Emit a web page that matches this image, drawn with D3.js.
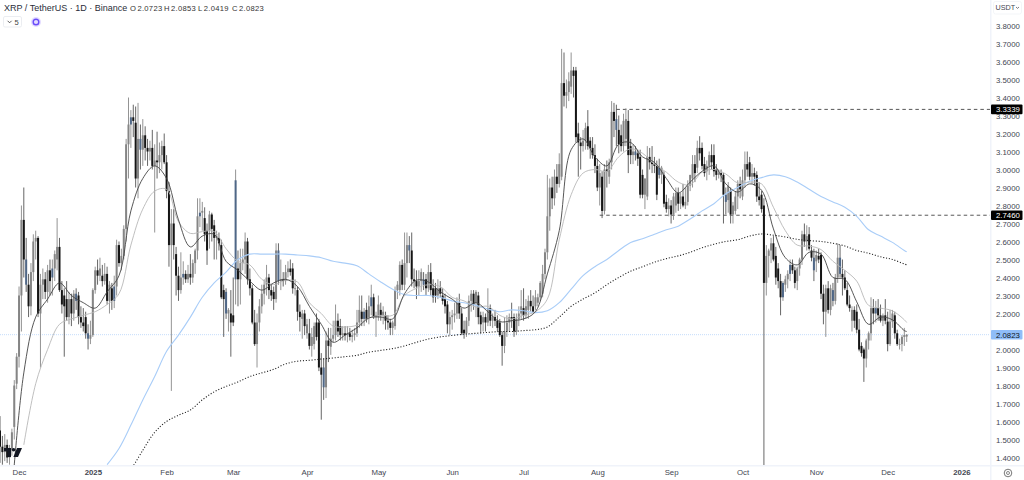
<!DOCTYPE html>
<html>
<head>
<meta charset="utf-8">
<title>XRP / TetherUS</title>
<script src="https://cdn.jsdelivr.net/npm/d3@7"></script>
<style>
  html, body { margin: 0; background: #fff; }
  svg { display: block; font-family: "Liberation Sans", Arial, sans-serif; }
</style>
</head>
<body>
<div id="chart"></div>
<script>
// one entry per day, first bar is 23 Nov 2024, lines below go month by month
const opens = [
  1.55,1.46,1.43,1.47,1.40,1.44,1.57,1.81,
  1.96,2.30,2.72,2.50,2.36,2.24,2.43,2.60,2.62,2.20,2.36,2.39,2.32,2.44,2.40,2.45,2.50,2.57,2.33,2.30,2.28,2.18,2.28,2.20,2.31,2.30,2.18,2.15,2.18,2.09,2.06,
  2.08,2.33,2.44,2.41,2.41,2.38,2.42,2.27,2.34,2.27,2.35,2.58,2.48,2.52,2.67,3.14,3.25,3.29,3.26,2.95,3.17,3.11,3.19,3.12,3.10,3.12,3.02,3.05,3.04,3.08,3.13,
  3.04,2.88,2.58,2.70,2.53,2.41,2.33,2.40,2.42,2.39,2.42,2.40,2.48,2.55,2.74,2.76,2.73,2.66,2.66,2.75,2.69,2.62,2.62,2.58,2.33,2.32,2.20,2.20,
  2.19,2.39,2.45,2.39,2.48,2.50,2.60,2.39,2.34,2.15,2.03,2.15,2.24,2.31,2.36,2.40,2.33,2.32,2.28,2.55,2.38,2.39,2.38,2.43,2.45,2.45,2.34,2.33,2.21,2.17,2.20,
  2.09,2.09,2.02,2.03,2.15,2.15,1.90,1.90,1.79,2.05,2.015,2.06,2.08,2.16,2.13,2.08,2.09,2.08,2.09,2.07,2.08,2.09,2.15,2.21,2.17,2.22,2.18,2.24,2.29,2.18,
  2.18,2.22,2.19,2.19,2.16,2.15,2.12,2.13,2.33,2.33,2.47,2.36,2.48,2.58,2.55,2.39,2.38,2.35,2.38,2.39,2.39,2.34,2.43,2.34,2.34,2.30,2.34,2.30,2.28,2.25,2.14,
  2.18,2.19,2.20,2.26,2.20,2.11,2.09,2.16,2.27,2.31,2.26,2.30,2.19,2.15,2.18,2.15,2.23,2.16,2.18,2.16,2.15,2.08,2.02,2.10,2.15,2.18,2.18,2.10,2.17,2.20,
  2.23,2.19,2.22,2.27,2.24,2.24,2.26,2.29,2.31,2.42,2.54,2.74,2.90,2.84,2.96,2.92,2.96,3.48,3.41,3.43,3.46,3.55,3.55,3.20,3.15,3.13,3.16,3.24,3.16,3.12,3.08,
  3.02,2.90,2.96,2.77,3.00,2.96,3.04,3.32,3.28,3.22,3.19,3.13,3.17,3.27,3.13,3.08,3.10,3.09,3.07,2.97,2.86,2.85,3.07,3.04,3.03,3.02,3.01,2.97,2.97,2.82,2.78,
  2.80,2.75,2.80,2.87,2.81,2.85,2.80,2.82,2.91,2.95,3.03,3.01,3.12,3.12,3.03,2.99,3.02,3.08,3.08,3.00,2.97,2.98,2.97,2.86,2.83,2.88,2.75,2.77,2.85,2.92,
  2.85,2.94,3.03,3.04,2.96,2.98,2.97,2.85,2.86,2.80,2.37,2.52,2.55,2.59,2.52,2.45,2.38,2.29,2.36,2.39,2.42,2.47,2.44,2.38,2.45,2.50,2.64,2.60,2.64,2.55,2.51,
  2.49,2.52,2.525,2.31,2.21,2.34,2.22,2.33,2.27,2.40,2.51,2.42,2.40,2.33,2.25,2.16,2.22,2.21,2.11,2.02,2.00,1.95,2.05,2.09,2.23,2.20,2.23,2.19,2.16,2.19,
  2.155,2.03,2.155,2.19,2.09,2.03,2.03,2.07,2.0723
];
const highs = [
  1.63,1.52,1.53,1.50,1.47,1.56,1.83,1.98,
  2.35,2.80,2.90,2.62,2.42,2.48,2.64,2.66,2.63,2.42,2.45,2.43,2.47,2.50,2.50,2.55,2.73,2.62,2.38,2.34,2.38,2.32,2.31,2.33,2.34,2.32,2.24,2.23,2.21,2.14,2.16,
  2.34,2.46,2.50,2.51,2.47,2.48,2.46,2.38,2.37,2.41,2.61,2.60,2.56,2.69,3.17,3.40,3.33,3.36,3.35,3.37,3.25,3.28,3.24,3.17,3.16,3.22,3.14,3.21,3.15,3.16,3.20,
  3.08,2.93,2.78,2.78,2.57,2.46,2.54,2.49,2.44,2.47,2.53,2.50,2.56,2.84,2.84,2.82,2.79,2.70,2.77,2.76,2.72,2.66,2.65,2.61,2.36,2.34,2.23,2.33,
  2.40,3.00,2.55,2.56,2.56,2.65,2.62,2.45,2.36,2.22,2.20,2.28,2.36,2.39,2.47,2.42,2.36,2.35,2.59,2.59,2.50,2.43,2.47,2.49,2.50,2.48,2.39,2.35,2.25,2.22,2.22,
  2.17,2.17,2.12,2.15,2.20,2.17,1.98,1.95,2.10,2.12,2.12,2.16,2.25,2.20,2.17,2.13,2.13,2.13,2.12,2.11,2.12,2.22,2.30,2.30,2.23,2.26,2.30,2.36,2.31,2.21,
  2.30,2.26,2.24,2.21,2.19,2.17,2.16,2.35,2.38,2.49,2.50,2.65,2.65,2.63,2.65,2.45,2.44,2.44,2.45,2.43,2.42,2.47,2.48,2.39,2.37,2.39,2.38,2.34,2.31,2.27,2.21,
  2.22,2.26,2.29,2.31,2.23,2.16,2.18,2.30,2.33,2.33,2.33,2.32,2.21,2.21,2.20,2.34,2.25,2.20,2.22,2.19,2.17,2.10,2.18,2.19,2.20,2.26,2.20,2.20,2.24,2.33,
  2.34,2.28,2.30,2.33,2.30,2.33,2.31,2.38,2.47,2.56,2.97,2.95,2.96,3.00,3.03,3.09,3.67,3.65,3.50,3.54,3.65,3.57,3.57,3.26,3.18,3.22,3.26,3.33,3.18,3.18,3.14,
  3.06,3.03,2.99,3.03,3.05,3.06,3.38,3.37,3.36,3.30,3.25,3.31,3.34,3.33,3.17,3.14,3.13,3.11,3.11,3.00,2.95,3.13,3.12,3.13,3.07,3.05,3.06,3.02,2.99,2.86,2.84,
  2.83,2.87,2.90,2.90,2.87,2.92,2.90,2.94,2.97,3.08,3.08,3.16,3.185,3.15,3.07,3.05,3.10,3.14,3.14,3.03,3.00,3.00,2.98,2.90,2.93,2.90,2.82,2.88,2.94,2.96,
  3.00,3.10,3.10,3.07,3.03,3.01,2.99,2.93,2.88,2.84,2.58,2.56,2.62,2.63,2.57,2.48,2.42,2.38,2.41,2.44,2.50,2.50,2.46,2.46,2.51,2.66,2.70,2.69,2.68,2.58,2.56,
  2.55,2.56,2.54,2.36,2.36,2.38,2.36,2.37,2.42,2.59,2.58,2.50,2.44,2.37,2.30,2.24,2.24,2.25,2.17,2.04,2.01,2.06,2.10,2.29,2.28,2.27,2.28,2.25,2.20,2.28,
  2.21,2.22,2.22,2.21,2.11,2.06,2.08,2.12,2.0853
];
const lows = [
  1.37,1.36,1.38,1.37,1.36,1.41,1.50,1.78,
  1.90,2.10,2.40,2.32,2.18,2.19,2.38,2.50,2.18,1.90,2.28,2.28,2.26,2.30,2.30,2.38,2.44,2.32,2.20,1.96,2.16,2.14,2.13,2.16,2.22,2.14,2.12,2.10,2.06,2.00,2.03,
  2.07,2.31,2.36,2.38,2.35,2.36,2.25,2.20,2.22,2.23,2.30,2.46,2.44,2.50,2.60,2.95,3.12,3.18,2.90,2.84,3.00,3.02,3.05,3.02,3.05,3.00,2.65,2.95,2.98,3.00,3.03,
  2.84,2.46,1.77,2.50,2.30,2.27,2.31,2.36,2.37,2.37,2.36,2.37,2.42,2.50,2.68,2.66,2.60,2.47,2.56,2.60,2.50,2.50,2.55,2.28,2.07,2.17,2.10,1.96,
  2.13,2.25,2.24,2.25,2.44,2.42,2.36,2.30,2.14,2.02,1.90,2.10,2.20,2.25,2.30,2.28,2.27,2.22,2.26,2.36,2.33,2.35,2.36,2.40,2.41,2.31,2.30,2.16,2.10,2.06,2.08,
  2.06,2.00,1.96,2.00,2.05,1.88,1.61,1.72,1.73,1.93,1.97,2.04,2.05,2.07,2.05,2.05,2.05,2.04,2.05,2.04,2.05,2.07,2.12,2.13,2.13,2.15,2.14,2.19,2.17,2.07,
  2.16,2.16,2.14,2.11,2.11,2.08,2.08,2.11,2.28,2.30,2.33,2.33,2.40,2.48,2.35,2.34,2.28,2.30,2.32,2.33,2.30,2.32,2.30,2.26,2.26,2.28,2.29,2.25,2.20,2.09,2.08,
  2.11,2.15,2.17,2.17,2.08,2.06,2.07,2.13,2.21,2.22,2.18,2.14,2.09,2.10,2.10,2.13,2.13,2.12,2.13,2.10,2.07,1.91,1.98,2.07,2.10,2.12,2.07,2.08,2.13,2.17,
  2.16,2.17,2.17,2.21,2.20,2.22,2.24,2.27,2.29,2.39,2.50,2.66,2.78,2.80,2.87,2.90,2.94,3.35,3.34,3.38,3.42,3.40,3.15,2.96,3.00,3.10,3.11,3.11,3.06,3.06,2.98,
  2.88,2.80,2.73,2.75,2.90,2.92,3.00,3.18,3.13,3.09,3.10,3.10,3.13,2.98,3.03,3.03,3.05,3.02,2.84,2.84,2.78,2.83,3.00,2.98,2.98,2.83,2.95,2.92,2.79,2.76,2.74,
  2.70,2.72,2.76,2.77,2.78,2.79,2.78,2.80,2.88,2.90,2.93,2.98,3.05,3.00,2.96,2.94,2.97,3.00,2.96,2.94,2.95,2.93,2.70,2.75,2.76,2.70,2.70,2.75,2.78,2.84,
  2.83,2.90,2.96,2.94,2.92,2.91,2.82,2.80,2.76,1.25,2.30,2.40,2.48,2.49,2.36,2.34,2.19,2.27,2.32,2.34,2.38,2.42,2.34,2.33,2.41,2.47,2.57,2.55,2.55,2.49,2.38,
  2.43,2.48,2.28,2.14,2.07,2.20,2.19,2.24,2.25,2.37,2.40,2.30,2.33,2.24,2.21,2.10,2.12,2.09,1.99,1.96,1.82,1.90,2.00,2.05,2.14,2.15,2.16,2.15,2.13,2.14,
  1.99,2.02,2.12,2.06,2.02,2.00,1.99,2.02,2.0419
];
const closes = [
  1.46,1.43,1.47,1.40,1.44,1.54,1.80,1.96,
  2.30,2.72,2.50,2.36,2.24,2.43,2.60,2.62,2.20,2.36,2.39,2.32,2.44,2.38,2.45,2.53,2.57,2.33,2.25,2.24,2.18,2.28,2.20,2.31,2.27,2.18,2.15,2.13,2.09,2.06,2.08,
  2.33,2.44,2.41,2.45,2.38,2.42,2.27,2.36,2.27,2.35,2.58,2.48,2.52,2.67,3.14,3.25,3.29,3.27,2.95,3.17,3.11,3.19,3.12,3.10,3.12,3.02,3.05,3.04,3.08,3.13,3.04,
  2.88,2.58,2.70,2.58,2.41,2.33,2.40,2.42,2.39,2.42,2.40,2.48,2.55,2.74,2.76,2.77,2.64,2.55,2.75,2.67,2.62,2.63,2.59,2.29,2.28,2.20,2.22,2.15,
  2.15,2.94,2.39,2.48,2.50,2.60,2.39,2.34,2.15,2.03,2.15,2.24,2.31,2.36,2.40,2.33,2.30,2.28,2.55,2.38,2.39,2.38,2.43,2.45,2.43,2.34,2.34,2.21,2.18,2.20,2.13,
  2.14,2.02,2.07,2.13,2.07,1.90,1.86,1.79,2.05,2.02,2.06,2.08,2.16,2.10,2.08,2.09,2.08,2.09,2.07,2.08,2.09,2.15,2.22,2.17,2.21,2.17,2.24,2.29,2.18,2.19,
  2.25,2.19,2.21,2.16,2.15,2.12,2.15,2.33,2.36,2.47,2.36,2.48,2.58,2.55,2.39,2.38,2.35,2.38,2.43,2.36,2.34,2.43,2.33,2.29,2.30,2.34,2.31,2.27,2.24,2.14,2.18,
  2.19,2.20,2.26,2.20,2.09,2.09,2.16,2.27,2.31,2.25,2.32,2.18,2.14,2.18,2.15,2.23,2.16,2.18,2.16,2.12,2.08,2.02,2.10,2.15,2.18,2.17,2.10,2.17,2.20,2.24,
  2.19,2.24,2.27,2.24,2.21,2.29,2.29,2.37,2.42,2.54,2.74,2.90,2.84,2.96,2.92,3.03,3.48,3.41,3.43,3.49,3.55,3.52,3.18,3.15,3.13,3.16,3.23,3.13,3.12,3.08,3.02,
  2.90,2.98,2.77,3.00,2.99,3.04,3.32,3.27,3.22,3.14,3.13,3.27,3.28,3.08,3.08,3.10,3.08,3.06,2.86,2.86,2.95,3.07,3.04,3.03,3.02,2.86,2.97,3.01,2.81,2.78,2.80,
  2.75,2.85,2.87,2.81,2.85,2.80,2.82,2.91,2.97,3.03,2.98,3.12,3.09,3.02,2.98,3.02,3.08,3.04,2.99,2.97,2.98,2.97,2.86,2.82,2.91,2.75,2.80,2.85,2.92,2.89,
  2.94,3.03,3.00,2.96,2.98,2.96,2.85,2.83,2.78,2.37,2.52,2.55,2.59,2.50,2.40,2.38,2.29,2.37,2.39,2.42,2.47,2.44,2.37,2.45,2.50,2.64,2.60,2.63,2.56,2.51,2.44,
  2.525,2.50,2.31,2.21,2.34,2.22,2.34,2.27,2.40,2.51,2.42,2.40,2.34,2.25,2.23,2.22,2.16,2.11,2.00,1.98,1.95,2.05,2.09,2.23,2.20,2.23,2.19,2.16,2.19,2.16,
  2.03,2.155,2.20,2.09,2.03,2.03,2.07,2.08,2.0823
];
// bars that read blue-grey in the picture
const blueBars = [11,22,32,37,48,55,59,77,84,95,99,117,136,153,156,172,178,259,267,277,305,329,332,342,350,353,368];

// moving averages, read every 5 bars and aligned to the end of maBars
const maBars = d3.range(0, 381, 5).concat(381);
const fastMa = [
  1.20,1.87,2.18,2.28,2.37,2.30,2.26,2.23,2.32,2.41,2.77,2.95,3.02,2.95,2.72,2.57,2.63,2.64,2.49,2.44,
  2.38,2.33,2.37,2.39,2.35,2.24,2.14,2.04,2.08,2.12,2.175,2.18,2.17,2.31,2.385,2.375,2.32,2.28,2.23,2.26,
  2.21,2.155,2.16,2.17,2.21,2.42,2.66,3.11,3.17,3.07,3.02,3.14,3.15,3.07,3.04,2.95,2.87,2.93,2.99,3.02,
  2.92,2.875,2.92,2.885,2.67,2.51,2.47,2.54,2.53,2.40,2.39,2.265,2.14,2.18,2.165,2.105,2.10
];
const slowMa = [
  1.47,1.81,2.00,2.14,2.17,2.19,2.21,2.25,2.31,2.58,2.78,2.88,2.89,2.71,2.645,2.655,2.655,2.56,2.49,
  2.47,2.39,2.36,2.385,2.375,2.26,2.20,2.13,2.125,2.135,2.175,2.19,2.19,2.30,2.34,2.36,2.35,2.29,2.27,2.235,
  2.24,2.19,2.17,2.19,2.21,2.28,2.61,2.86,2.98,3.00,2.99,3.07,3.115,3.09,3.03,2.985,2.93,2.915,2.985,3.00,
  2.975,2.925,2.93,2.92,2.79,2.66,2.58,2.575,2.555,2.49,2.44,2.38,2.245,2.23,2.215,2.165,2.15
];
const blueMa = [
  1.36,1.45,1.58,1.72,1.85,1.99,2.08,2.18,2.29,2.37,2.43,2.50,2.53,2.53,2.53,2.53,2.525,2.52,2.51,2.49,
  2.48,2.465,2.42,2.375,2.335,2.305,2.30,2.30,2.29,2.27,2.26,2.245,2.225,2.21,2.22,2.215,2.205,2.215,2.26,2.335,
  2.41,2.46,2.50,2.55,2.595,2.615,2.64,2.665,2.685,2.725,2.77,2.81,2.865,2.90,2.935,2.955,2.97,2.96,2.93,2.89,
  2.85,2.82,2.79,2.74,2.665,2.63,2.595,2.55,2.543
];
const dottedMa = [
  1.33,1.44,1.54,1.60,1.635,1.664,1.72,1.765,1.795,1.82,1.85,1.87,1.89,1.92,1.935,1.94,1.947,1.953,1.96,1.968,
  1.985,1.995,2.005,2.02,2.04,2.058,2.07,2.078,2.085,2.09,2.095,2.10,2.10,2.105,2.11,2.125,2.18,2.24,2.28,2.315,
  2.36,2.40,2.435,2.46,2.485,2.505,2.52,2.54,2.565,2.585,2.60,2.61,2.63,2.642,2.635,2.625,2.612,2.605,2.60,2.59,
  2.575,2.55,2.535,2.515,2.50,2.475,2.47
];

const priceTicks = d3.range(38, 13, -1).map(d => d / 10);
const monthTicks = [[2024,11],[2025,0],[2025,1],[2025,2],[2025,3],[2025,4],[2025,5],[2025,6],[2025,7],[2025,8],[2025,9],[2025,10],[2025,11],[2026,0]];
const monthLabels = ['Dec','2025','Feb','Mar','Apr','May','Jun','Jul','Aug','Sep','Oct','Nov','Dec','2026'];

const lastPrice = 2.0823;
const pivotPrices = [3.3339, 2.7460];
const pivotBars = [259, 252];

const WIDTH = 1024, HEIGHT = 480;
const PLOT_RIGHT = 990, PLOT_BOTTOM = 465;

const firstDay = Date.UTC(2024, 10, 23);
const barDate = i => new Date(firstDay + i * 864e5);

const x = d3.scaleUtc().domain([barDate(0), barDate(416)]).range([0, PLOT_RIGHT]);
const y = d3.scaleLinear().domain([3.8, 1.4]).range([25.5, 457.5]);

const svg = d3.select('#chart').append('svg').attr('width', WIDTH).attr('height', HEIGHT);

svg.append('clipPath').attr('id', 'plot-clip').append('rect')
  .attr('width', PLOT_RIGHT).attr('height', PLOT_BOTTOM);

const plot = svg.append('g').attr('clip-path', 'url(#plot-clip)');

// current price line sits under everything else
plot.append('line')
  .attr('x1', 0).attr('x2', PLOT_RIGHT)
  .attr('y1', y(lastPrice)).attr('y2', y(lastPrice))
  .attr('stroke', '#c4dcfb').attr('stroke-width', 1).attr('stroke-dasharray', '1,1');

pivotPrices.forEach((p, k) => {
  plot.append('line')
    .attr('x1', x(barDate(pivotBars[k]))).attr('x2', PLOT_RIGHT)
    .attr('y1', y(p)).attr('y2', y(p))
    .attr('stroke', '#444').attr('stroke-width', 0.9).attr('stroke-dasharray', '3.5,3');
});

const bars = d3.range(opens.length);
const barFill = i => {
  if (blueBars.includes(i)) return '#4f6787';
  return closes[i] >= opens[i] ? '#858585' : '#151515';
};

plot.selectAll('.wick').data(bars).join('line')
  .attr('class', 'wick')
  .attr('x1', i => x(barDate(i))).attr('x2', i => x(barDate(i)))
  .attr('y1', i => y(highs[i])).attr('y2', i => y(lows[i]))
  .attr('stroke', i => (closes[i] >= opens[i] ? '#888' : '#555'))
  .attr('stroke-width', 0.9);

plot.selectAll('.body').data(bars).join('rect')
  .attr('class', 'body')
  .attr('x', i => x(barDate(i)) - 1)
  .attr('width', 2)
  .attr('y', i => y(Math.max(opens[i], closes[i])))
  .attr('height', i => Math.max(0.8, Math.abs(y(opens[i]) - y(closes[i]))))
  .attr('fill', barFill);

function drawMa(values, stroke, strokeWidth, dash) {
  const offset = maBars.length - values.length;
  const line = d3.line()
    .x((d, k) => x(barDate(maBars[k + offset])))
    .y(d => y(d))
    .curve(d3.curveCatmullRom.alpha(0.5));
  plot.append('path')
    .attr('d', line(values))
    .attr('fill', 'none')
    .attr('stroke', stroke)
    .attr('stroke-width', strokeWidth)
    .attr('stroke-dasharray', dash);
}

drawMa(blueMa, '#a9cdf8', 1.1, null);
drawMa(slowMa, '#b8b8b8', 0.9, null);
drawMa(fastMa, '#444', 0.9, null);
drawMa(dottedMa, '#222', 1.1, '1.1,1.8');

// TradingView mark, bottom left
const logo = svg.append('g').attr('transform', 'translate(4,448)').attr('fill', '#131722');
logo.append('path').attr('d', 'M0 0H7V9H3.6V3.2H0Z');
logo.append('circle').attr('cx', 9.6).attr('cy', 1.7).attr('r', 1.7);
logo.append('path').attr('d', 'M13 0H18L14 9H9.4Z');

// time axis
svg.append('rect').attr('x', 0).attr('y', PLOT_BOTTOM).attr('width', WIDTH).attr('height', 1.5).attr('fill', '#f0f3fa');
const xAxis = d3.axisBottom(x)
  .tickValues(monthTicks.map(d => new Date(Date.UTC(d[0], d[1], 1))))
  .tickFormat((d, k) => monthLabels[k])
  .tickSize(0).tickPadding(4);
const xAxisG = svg.append('g').attr('transform', `translate(0,${PLOT_BOTTOM})`).call(xAxis);
xAxisG.select('.domain').remove();
xAxisG.selectAll('text')
  .attr('font-family', '"Liberation Sans", Arial, sans-serif')
  .attr('font-size', 7.8)
  .attr('fill', '#434651')
  .attr('font-weight', (d, k) => (/^\d/.test(monthLabels[k]) ? 'bold' : 'normal'));

// price axis
svg.append('rect').attr('x', PLOT_RIGHT).attr('y', 0).attr('width', 1.5).attr('height', HEIGHT).attr('fill', '#f0f3fa');
const yAxis = d3.axisRight(y)
  .tickValues(priceTicks)
  .tickFormat(d3.format('.4f'))
  .tickSize(0).tickPadding(6);
const yAxisG = svg.append('g').attr('transform', `translate(${PLOT_RIGHT},0)`).call(yAxis);
yAxisG.select('.domain').remove();
yAxisG.selectAll('text')
  .attr('font-family', '"Liberation Sans", Arial, sans-serif')
  .attr('font-size', 7.8)
  .attr('fill', '#434651');

function priceTag(price, fill, color) {
  const g = svg.append('g').attr('transform', `translate(991,${y(price)})`);
  g.append('rect').attr('x', 0).attr('y', -4.8).attr('width', 31.5).attr('height', 9.6).attr('rx', 1).attr('fill', fill);
  g.append('text').attr('x', 5).attr('y', 2.9).attr('font-size', 7.8).attr('fill', color).text(d3.format('.4f')(price));
}
pivotPrices.forEach(p => priceTag(p, '#000', '#fff'));
priceTag(lastPrice, '#8fbdf8', '#131722');

// header
const legend = svg.append('g').attr('fill', '#131722');
legend.append('text').attr('x', 4).attr('y', 11).attr('font-size', 9).attr('fill', '#2a2e39')
  .text('XRP / TetherUS · 1D · Binance');
const ohlc = [['O', opens], ['H', highs], ['L', lows], ['C', closes]];
const ohlcX = d3.scalePoint().domain(ohlc.map(d => d[0])).range([130, 232]);
ohlc.forEach(([label, values]) => {
  const t = legend.append('text').attr('x', ohlcX(label)).attr('y', 10.7).attr('font-size', 7.6).attr('letter-spacing', 0.3).attr('fill', '#333');
  t.append('tspan').text(label);
  t.append('tspan').attr('dx', 1.2).text(d3.format('.4f')(values[values.length - 1]));
});

// collapsed indicators button and the small purple icon
svg.append('rect').attr('x', 3.5).attr('y', 16.5).attr('width', 18).attr('height', 10.5).attr('rx', 1.5)
  .attr('fill', '#fff').attr('stroke', '#e6e8ee').attr('stroke-width', 0.8);
svg.append('path').attr('d', 'M7.6 20.8l2 2 2-2').attr('fill', 'none').attr('stroke', '#333').attr('stroke-width', 0.8);
svg.append('text').attr('x', 14.5).attr('y', 24.8).attr('font-size', 7.6).attr('fill', '#444').text('5');
svg.append('circle').attr('cx', 36).attr('cy', 22).attr('r', 5).attr('fill', '#e4dcff');
svg.append('circle').attr('cx', 36).attr('cy', 22).attr('r', 2.8).attr('fill', 'none').attr('stroke', '#6b4dfa').attr('stroke-width', 1.4);

// currency button, top right
svg.append('rect').attr('x', 993.5).attr('y', 1.5).attr('width', 28).attr('height', 12.5).attr('rx', 2)
  .attr('fill', '#fff').attr('stroke', '#f0f2f6').attr('stroke-width', 0.8);
svg.append('text').attr('x', 995.5).attr('y', 10.4).attr('font-size', 7.2).attr('fill', '#434651').text('USDT');
svg.append('path').attr('d', 'M1016 7l1.5 1.4 1.5-1.4').attr('fill', 'none').attr('stroke', '#434651').attr('stroke-width', 0.7);

// settings gear, bottom right
svg.append('circle').attr('cx', 1008).attr('cy', 473).attr('r', 3.8).attr('fill', 'none').attr('stroke', '#555').attr('stroke-width', 0.8);
svg.append('circle').attr('cx', 1008).attr('cy', 473).attr('r', 1.5).attr('fill', 'none').attr('stroke', '#555').attr('stroke-width', 0.7);
</script>
</body>
</html>
